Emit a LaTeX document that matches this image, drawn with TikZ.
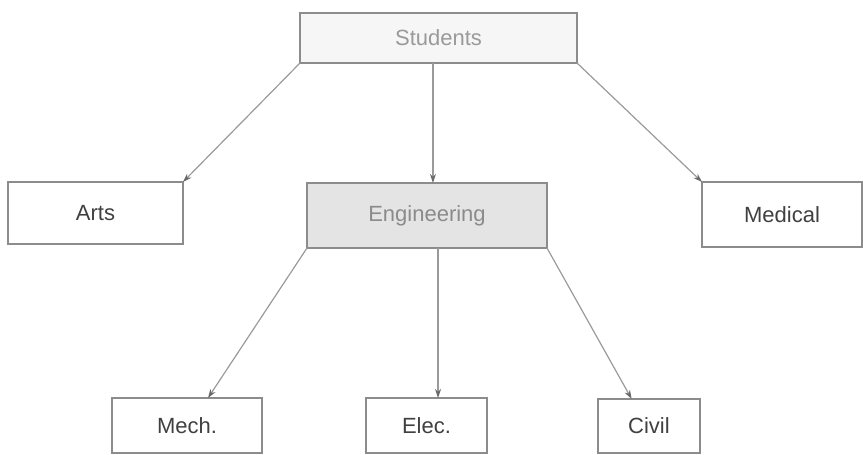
\documentclass[tikz,border=0pt]{standalone}
\usepackage{fontspec}
\setmainfont{Liberation Sans}
\usetikzlibrary{calc,arrows.meta}

\definecolor{edgegray}{HTML}{8C8C8C}
\definecolor{linegray}{HTML}{9A9A9A}
\definecolor{tipgray}{HTML}{6A6A6A}
\definecolor{labeldark}{HTML}{404040}
\definecolor{labellight}{HTML}{9A9A9A}
\definecolor{rootfill}{HTML}{F6F6F6}
\definecolor{midfill}{HTML}{E4E4E4}

\tikzset{
  box/.style={draw=edgegray, line width=1.3pt, fill=white, inner sep=0pt, outer sep=0pt,
              text=labeldark, font=\fontsize{22}{26}\selectfont},
  rootbox/.style={box, fill=rootfill, text=labellight},
  midbox/.style={box, fill=midfill, text=labellight!90!black},
  link/.style={draw=linegray, line width=1.2pt,
               -{Stealth[length=9pt,width=6pt,color=tipgray]}},
}

\begin{document}
\begin{tikzpicture}[x=1pt, y=-1pt]
  \useasboundingbox (0,0) rectangle (863,455);

  % top level
  \node[rootbox, minimum width=277pt, minimum height=50pt] (students) at (438.5,38) {Students};

  % second level
  \node[box, minimum width=175pt, minimum height=62pt] (arts) at (95.5,213) {Arts};
  \node[midbox, minimum width=240pt, minimum height=65pt] (engg) at (427,215.5) {Engineering};
  \node[box, minimum width=160pt, minimum height=65pt] (medical) at (782,214.5) {Medical};

  % third level
  \node[box, minimum width=150pt, minimum height=55pt] (mech) at (187,425.5) {Mech.};
  \node[box, minimum width=121pt, minimum height=55pt] (elec) at (426.5,425.5) {Elec.};
  \node[box, minimum width=102pt, minimum height=54pt] (civil) at (649,426) {Civil};

  % attachment points along box edges
  \coordinate (sDown) at ($(students.south west)!0.48!(students.south east)$);
  \coordinate (eTop) at (sDown |- engg.north);
  \coordinate (eDown) at ($(engg.south west)!0.546!(engg.south east)$);
  \coordinate (elecTop) at (eDown |- elec.north);
  \coordinate (mechTop) at ($(mech.north west)!0.64!(mech.north east)$);
  \coordinate (civilTop) at ($(civil.north west)!0.33!(civil.north east)$);

  % connectors
  \draw[link] (students.south west) -- (arts.north east);
  \draw[link] (sDown) -- (eTop);
  \draw[link] (students.south east) -- (medical.north west);
  \draw[link] (engg.south west) -- (mechTop);
  \draw[link] (eDown) -- (elecTop);
  \draw[link] (engg.south east) -- (civilTop);
\end{tikzpicture}
\end{document}
